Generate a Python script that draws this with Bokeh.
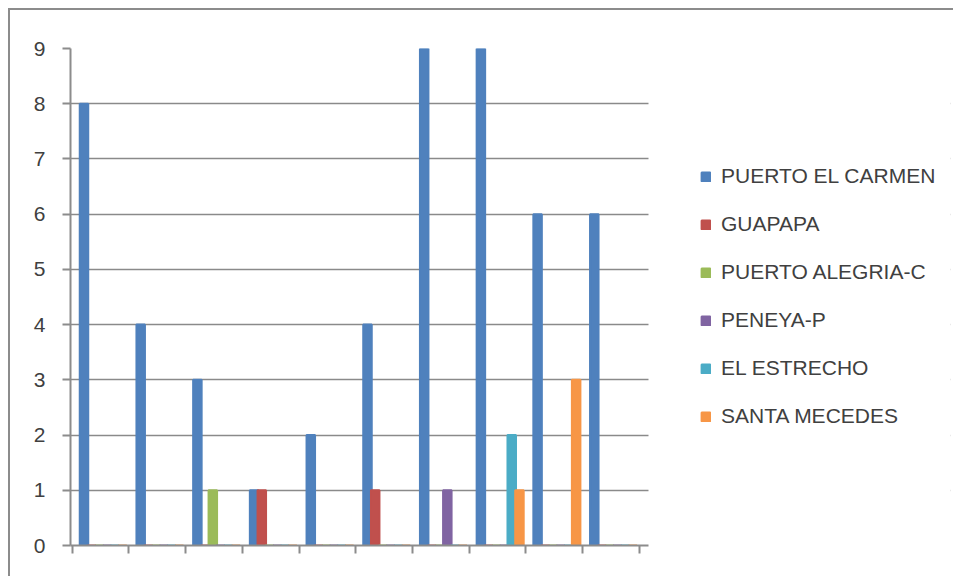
from bokeh.plotting import figure
from bokeh.models import ColumnDataSource, Range1d, FixedTicker, Legend, LegendItem, BoxAnnotation
from bokeh.transform import dodge
from bokeh.embed import file_html
from bokeh.resources import INLINE

groups = [0, 1, 2, 3, 4, 5, 6, 7, 8, 9]
series_names = ["PUERTO EL CARMEN", "GUAPAPA", "PUERTO ALEGRIA-C",
                "PENEYA-P", "EL ESTRECHO", "SANTA MECEDES"]
puerto_el_carmen = [8, 4, 3, 1, 2, 4, 9, 9, 6, 6]
guapapa = [0, 0, 0, 1, 0, 1, 0, 0, 0, 0]
puerto_alegria_c = [0, 0, 1, 0, 0, 0, 0, 0, 0, 0]
peneya_p = [0, 0, 0, 0, 0, 0, 1, 0, 0, 0]
el_estrecho = [0, 0, 0, 0, 0, 0, 0, 2, 0, 0]
santa_mecedes = [0, 0, 0, 0, 0, 0, 0, 1, 3, 0]
y_ticks = [0, 1, 2, 3, 4, 5, 6, 7, 8, 9]
x_ticks = [0, 1, 2, 3, 4, 5, 6, 7, 8, 9, 10]

colors = ["#4F81BD", "#C0504D", "#9BBB59", "#8064A2", "#4BACC6", "#F79646"]
values = [puerto_el_carmen, guapapa, puerto_alegria_c, peneya_p, el_estrecho, santa_mecedes]

src = ColumnDataSource(dict(g=groups, s0=values[0], s1=values[1], s2=values[2],
                            s3=values[3], s4=values[4], s5=values[5]))

W, H = 945, 568
ppu = 56.7
frame_w = W - 60 - 5
x0 = -0.03
p = figure(width=W, height=H, output_backend="svg", toolbar_location=None,
           x_range=Range1d(x0, x0 + frame_w / ppu), y_range=Range1d(0, 9),
           min_border_left=60, min_border_right=5, min_border_top=38,
           min_border_bottom=H - 535)
p.styles = {"margin-left": "8px", "margin-top": "8px",
            "border-top": "2px solid #8c8c8c", "border-left": "2px solid #8c8c8c"}
p.outline_line_color = None
p.background_fill_color = "white"
p.border_fill_color = "white"

step = 0.136
renderers = []
for i, name in enumerate(series_names):
    r = p.vbar(x=dodge("g", 0.208 + i * step, range=p.x_range), top="s%d" % i,
               bottom=0, width=0.15, source=src, fill_color=colors[i],
               line_color=colors[i], line_width=2)
    renderers.append(r)

grid_end = x0 + 578 / ppu
p.xgrid.grid_line_color = None
p.ygrid.grid_line_color = "#8a8a8a"
p.ygrid.grid_line_width = 1.7
p.ygrid.ticker = FixedTicker(ticks=y_ticks)

# white panel hiding the gridlines to the right of the plot area (legend area)
p.add_layout(BoxAnnotation(left=grid_end, fill_color="white", fill_alpha=1,
                           line_color=None, level="underlay"))

p.yaxis.ticker = FixedTicker(ticks=y_ticks)
p.yaxis.axis_line_color = "#8c8c8c"
p.yaxis.axis_line_width = 2
p.yaxis.major_tick_line_color = "#8c8c8c"
p.yaxis.major_tick_line_width = 2
p.yaxis.major_tick_out = 8
p.yaxis.major_tick_in = 0
p.yaxis.minor_tick_line_color = None
p.yaxis.major_label_text_font = "Liberation Sans"
p.yaxis.major_label_text_font_size = "21px"
p.yaxis.major_label_text_color = "#404040"
p.yaxis.major_label_standoff = 17

p.xaxis.ticker = FixedTicker(ticks=x_ticks)
p.xaxis.bounds = (x0, grid_end)
p.xaxis.major_label_overrides = {t: "" for t in x_ticks}
p.xaxis.axis_line_color = "#8c8c8c"
p.xaxis.axis_line_width = 2
p.xaxis.major_tick_line_color = "#8c8c8c"
p.xaxis.major_tick_line_width = 2
p.xaxis.major_tick_out = 8
p.xaxis.major_tick_in = 0
p.xaxis.minor_tick_line_color = None

legend = Legend(items=[LegendItem(label=n, renderers=[r]) for n, r in zip(series_names, renderers)],
                location=(630, 117), orientation="vertical",
                padding=0, margin=0, spacing=24,
                glyph_width=11, glyph_height=11, label_height=24,
                label_standoff=10, label_text_font="Liberation Sans",
                label_text_font_size="21px", label_text_color="#404040",
                border_line_color=None, background_fill_alpha=0)
p.add_layout(legend, "center")

open("out.html", "w").write(file_html(p, INLINE))
